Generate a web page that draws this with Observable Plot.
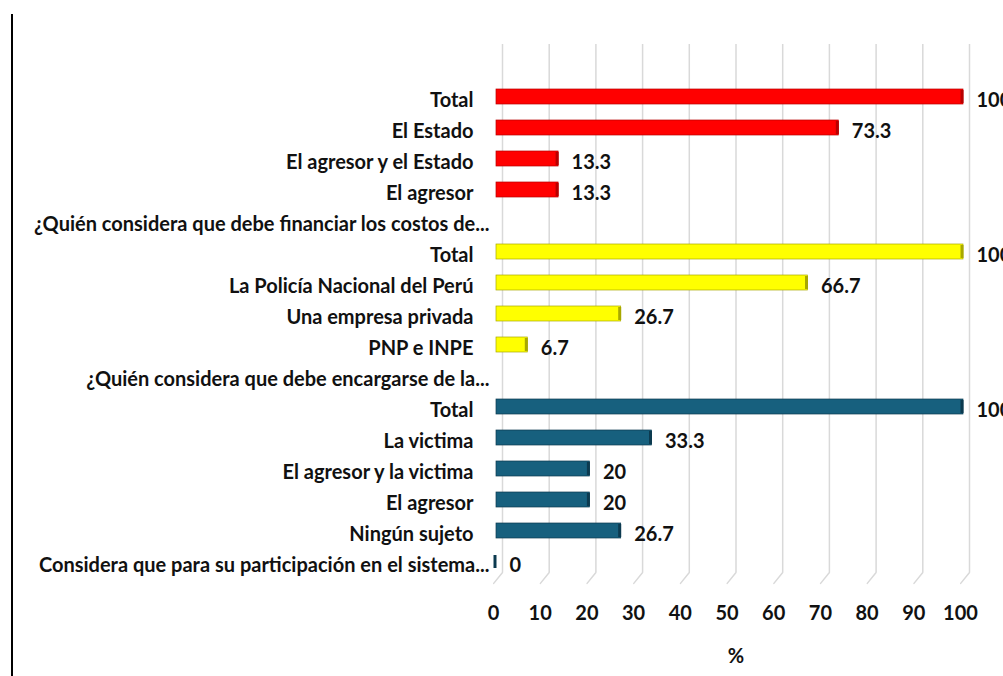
<!DOCTYPE html>
<html><head><meta charset="utf-8">
<script src="https://cdn.jsdelivr.net/npm/d3@7"></script>
<script src="https://cdn.jsdelivr.net/npm/@observablehq/plot@0.6"></script>
<style>
body{margin:0;background:#fff;}
#frame{position:absolute;left:11px;top:14px;width:2px;height:662px;background:#000;}
#chart{position:absolute;left:0;top:0;}
</style></head><body>
<div id="frame"></div><div id="chart"></div>
<script>
// --- data (top to bottom as drawn) ---
const financiarLabels = ["Total", "El Estado", "El agresor y el Estado", "El agresor"];
const financiarValues = [100, 73.3, 13.3, 13.3];
const financiarHeader = "¿Quién considera que debe financiar los costos de...";

const encargarseLabels = ["Total", "La Policía Nacional del Perú", "Una empresa privada", "PNP e INPE"];
const encargarseValues = [100, 66.7, 26.7, 6.7];
const encargarseHeader = "¿Quién considera que debe encargarse de la...";

const participacionLabels = ["Total", "La victima", "El agresor y la victima", "El agresor", "Ningún sujeto"];
const participacionValues = [100, 33.3, 20, 20, 26.7];
const participacionHeader = "Considera que para su participación en el sistema...";
const participacionHeaderValue = 0;

const xTicks = [0, 10, 20, 30, 40, 50, 60, 70, 80, 90, 100];
const axisLabel = "%";

const redFill = "#ff0000", redEdge = "#b80000";
const yellowFill = "#ffff00", yellowEdge = "#a8a800";
const blueFill = "#17607e", blueEdge = "#0c3a4f";

// --- build rows ---
const rows = [];
function addGroup(labels, values, fill, edge) {
  labels.forEach((l, i) => rows.push({key: "r" + rows.length, label: l, value: values[i], fill, edge, header: false}));
}
function addHeader(label, value, fill, edge) {
  rows.push({key: "r" + rows.length, label, value, fill, edge, header: true});
}
addGroup(financiarLabels, financiarValues, redFill, redEdge);
addHeader(financiarHeader, null, redFill, redEdge);
addGroup(encargarseLabels, encargarseValues, yellowFill, yellowEdge);
addHeader(encargarseHeader, null, yellowFill, yellowEdge);
addGroup(participacionLabels, participacionValues, blueFill, blueEdge);
addHeader(participacionHeader, participacionHeaderValue, blueFill, blueEdge);

const withValue = rows.filter(d => d.value != null);
const font = "Lato, 'Open Sans', sans-serif";

const slant = {draw(context, l) { context.moveTo(0, 0); context.lineTo(0, -l); }};

const chart = Plot.plot({
  width: 1003,
  height: 676,
  marginLeft: 502,
  marginRight: 34,
  marginTop: 44,
  marginBottom: 104,
  style: {fontFamily: font, background: "transparent", overflow: "visible"},
  x: {domain: [0, 100], ticks: xTicks},
  y: {domain: rows.map(d => d.key), paddingInner: 0.52, paddingOuter: 0, insetTop: 44, insetBottom: 2, axis: null},
  color: {type: "identity"},
  marks: [
    Plot.ruleX(xTicks, {stroke: "#d9d9d9", strokeWidth: 1.5}),
    Plot.vector(xTicks, {x: d => d, frameAnchor: "bottom", length: 14, rotate: 219, anchor: "start", shape: slant, stroke: "#d9d9d9", strokeWidth: 1.5}),
    Plot.barX(withValue, {x: "value", y: "key", fill: "fill", stroke: "edge", strokeWidth: 0.7, dx: -6}),
    Plot.tickX(withValue, {x: "value", y: "key", stroke: "edge", strokeWidth: 3, dx: -7.5, insetTop: 1, insetBottom: 1}),
    Plot.text(withValue, {x: "value", y: "key", text: d => String(d.value), dx: 7, dy: 4, textAnchor: "start", fontSize: 20, fontWeight: "bold", fill: "#111"}),
    Plot.text(rows.filter(d => !d.header), {y: "key", text: "label", frameAnchor: "left", dx: -29, dy: 4, textAnchor: "end", fontSize: 20, fontWeight: "bold", fill: "#111"}),
    Plot.text(rows.filter(d => d.header), {y: "key", text: "label", frameAnchor: "left", dx: -13, dy: 4, textAnchor: "end", fontSize: 20, fontWeight: "bold", fill: "#111"}),
    Plot.axisX({ticks: xTicks, tickSize: 0, tickPadding: 33, dx: -9, fontSize: 20, fontWeight: "bold", fill: "#111", label: axisLabel, labelAnchor: "center", labelOffset: 90, labelArrow: "none"})
  ]
});
document.getElementById("chart").appendChild(chart);
</script>
</body></html>
